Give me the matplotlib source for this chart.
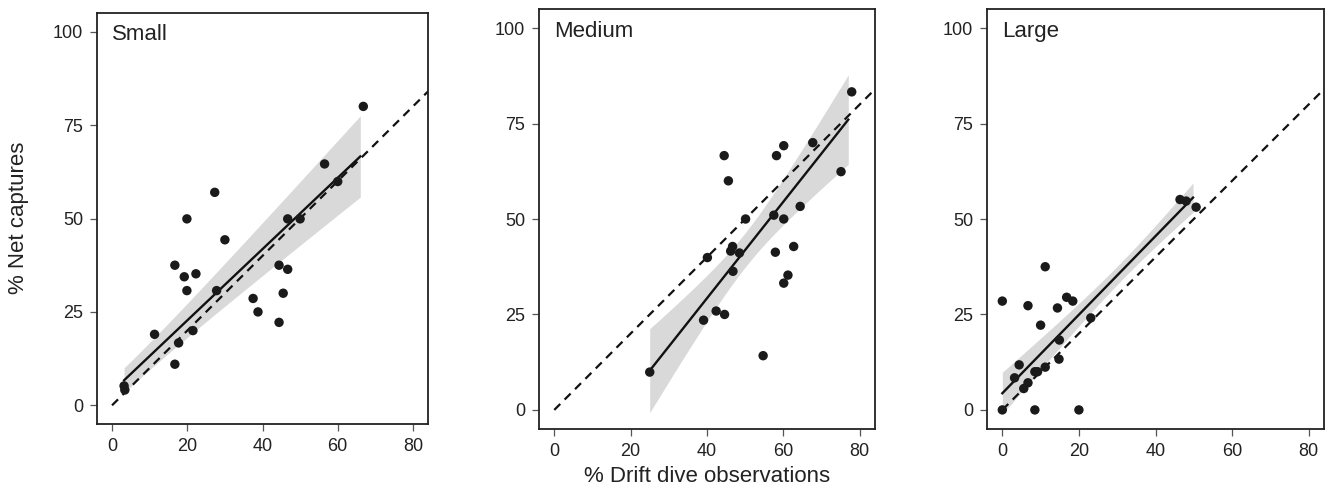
import numpy as np
import matplotlib
matplotlib.use("Agg")
import matplotlib.pyplot as plt

plt.rcParams['font.family'] = ['Liberation Sans', 'DejaVu Sans']

# ---------------- data ----------------
panel_names = ["Small", "Medium", "Large"]

small_x = [3.2, 3.4, 11.3, 16.7, 16.7, 17.7, 19.2, 19.9, 19.9, 22.3, 21.5, 27.3, 27.8,
           30.0, 37.5, 38.8, 44.4, 44.4, 45.5, 46.7, 46.7, 50.0, 56.5, 60.0, 66.8]
small_y = [5.2, 4.1, 19.0, 37.5, 11.0, 16.7, 34.4, 49.9, 30.7, 35.2, 20.0, 57.0, 30.7,
           44.3, 28.6, 25.0, 37.5, 22.2, 30.0, 36.4, 49.9, 49.9, 64.6, 59.9, 80.0]

medium_x = [25.0, 39.1, 40.1, 42.4, 44.6, 44.5, 45.6, 46.2, 46.7, 46.8, 48.5, 50.1, 54.7,
            57.5, 57.9, 58.2, 60.1, 60.1, 60.1, 61.2, 62.7, 64.4, 67.7, 75.1, 77.9]
medium_y = [9.9, 23.5, 39.9, 25.9, 25.0, 66.6, 60.0, 41.6, 42.8, 36.3, 41.1, 50.0, 14.2,
            51.0, 41.3, 66.6, 50.0, 69.2, 33.2, 35.3, 42.8, 53.3, 70.0, 62.4, 83.3]

large_x = [0.0, 0.0, 8.5, 20.0, 3.2, 4.4, 5.6, 6.7, 6.7, 8.5, 9.2, 10.0, 11.2, 11.2,
           14.4, 14.8, 14.9, 16.8, 18.4, 23.1, 46.4, 48.0, 50.6]
large_y = [0.0, 28.5, 0.0, 0.0, 8.4, 11.8, 5.6, 7.1, 27.3, 10.0, 10.0, 22.2, 11.2, 37.5,
           26.7, 13.3, 18.3, 29.5, 28.5, 24.1, 55.1, 54.7, 53.1]

# fitted model: intercept, slope, x-range of the fit line
fit_intercept = [3.65, -21.31, 4.36]
fit_slope = [0.954, 1.264, 1.029]
fit_xmin = [3.2, 25.0, 0.0]
fit_xmax = [66.0, 77.0, 49.8]
# confidence band: half-width = sqrt(h0^2 + k^2 (x - xc)^2)
band_xc = [0.0, 50.0, 31.0]
band_h0 = [3.3, 4.5, 2.4]
band_k = [0.157, 0.401, 0.160]

x_ticks = [0, 20, 40, 60, 80]
y_ticks = [0, 25, 50, 75, 100]
x_label = "% Drift dive observations"
y_label = "% Net captures"

W, H = 1326, 495
fig = plt.figure(figsize=(W / 100, H / 100), dpi=100)

# pixel boxes: left, top, right, bottom
boxes = [(97, 13, 428, 424), (539, 9, 875, 429), (987, 9, 1324, 429)]
datasets = [(small_x, small_y), (medium_x, medium_y), (large_x, large_y)]

for i, ((l, t, r, b), name, (dx, dy)) in enumerate(zip(boxes, panel_names, datasets)):
    ax = fig.add_axes([l / W, (H - b) / H, (r - l) / W, (b - t) / H])
    xx = np.linspace(fit_xmin[i], fit_xmax[i], 200)
    yy = fit_intercept[i] + fit_slope[i] * xx
    hw = np.sqrt(band_h0[i] ** 2 + band_k[i] ** 2 * (xx - band_xc[i]) ** 2)
    ax.fill_between(xx, yy - hw, yy + hw, color='#d9d9d9', lw=0, zorder=1)
    ax.plot([0, 90], [0, 90], color='#111111', lw=1.6, ls=(0, (3.8, 2.8)), zorder=2)
    ax.plot(xx, yy, color='#111111', lw=1.7, zorder=3)
    ax.scatter(dx, dy, s=46, color='#1a1a1a', edgecolors='none', zorder=4)
    ax.set_xlim(-4, 84)
    ax.set_ylim(-5, 105)
    ax.set_xticks(x_ticks)
    ax.set_yticks(y_ticks)
    ax.tick_params(axis='both', direction='out', length=5, width=0.9, color='#555555',
                   labelsize=13, labelcolor='#222222', pad=5)
    for sp in ax.spines.values():
        sp.set_linewidth(1.3)
        sp.set_color('#222222')
    ax.text(0, 97.7, name, fontsize=16, color='#222222', ha='left', va='baseline')

fig.text(19 / W, 1 - 218 / H, y_label, rotation=90, fontsize=16, color='#222222',
         ha='center', va='center')
fig.text(707 / W, 1 - 476 / H, x_label, fontsize=16, color='#222222',
         ha='center', va='center')

fig.savefig("out.png", dpi=100)
